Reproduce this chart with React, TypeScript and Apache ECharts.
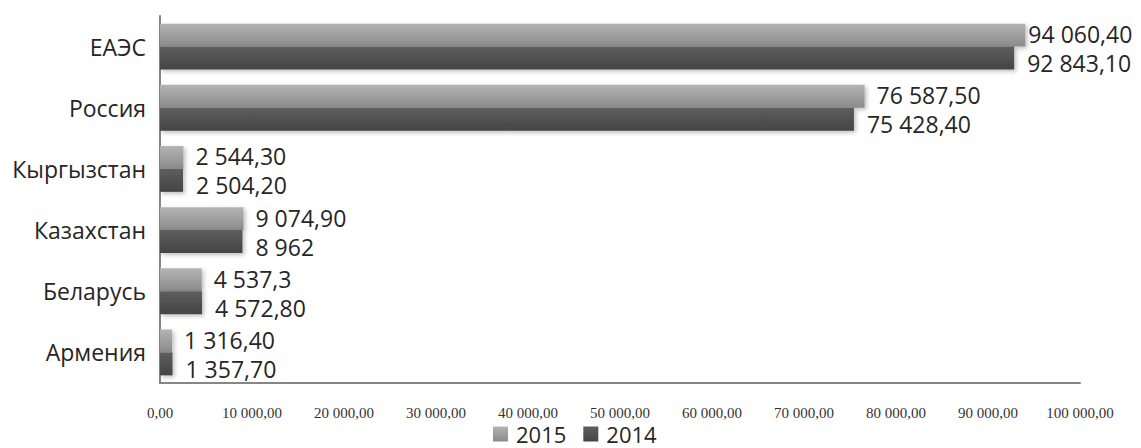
import React, { useEffect, useRef } from "react";
import * as echarts from "echarts";

const categories = ["ЕАЭС", "Россия", "Кыргызстан", "Казахстан", "Беларусь", "Армения"];
const values2015 = [94060.4, 76587.5, 2544.3, 9074.9, 4537.3, 1316.4];
const values2014 = [92843.1, 75428.4, 2504.2, 8962, 4572.8, 1357.7];
const labels2015 = ["94 060,40", "76 587,50", "2 544,30", "9 074,90", "4 537,3", "1 316,40"];
const labels2014 = ["92 843,10", "75 428,40", "2 504,20", "8 962", "4 572,80", "1 357,70"];
const seriesNames = ["2015", "2014"];
const axisMin = 0;
const axisMax = 100000;
const axisInterval = 10000;

function fmtAxis(v: number): string {
  const s = Math.round(v).toString().replace(/\B(?=(\d{3})+(?!\d))/g, " ");
  return s + ",00";
}

const grad2015 = new echarts.graphic.LinearGradient(0, 0, 0, 1, [
  { offset: 0, color: "#b4b4b4" },
  { offset: 1, color: "#8a8a8a" },
]);
const grad2014 = new echarts.graphic.LinearGradient(0, 0, 0, 1, [
  { offset: 0, color: "#5e5e5e" },
  { offset: 1, color: "#444444" },
]);

export default function App() {
  const ref = useRef<HTMLDivElement>(null);
  useEffect(() => {
    document.body.style.margin = "0";
    if (!ref.current) return;
    const chart = echarts.init(ref.current, null, { renderer: "svg" });
    const labelFont = "'Open Sans', 'Noto Sans', sans-serif";
    const shadow = { shadowColor: "rgba(0,0,0,0.25)", shadowBlur: 4, shadowOffsetX: 2, shadowOffsetY: 2 };
    chart.setOption({
      animation: false,
      backgroundColor: "#ffffff",
      grid: { left: 160, right: 61, top: 16, bottom: 65, containLabel: false },
      legend: {
        bottom: -2,
        left: 488,
        itemWidth: 15,
        itemHeight: 15,
        itemGap: 17,
        icon: "rect",
        textStyle: { fontSize: 22, lineHeight: 22, color: "#262626", fontFamily: labelFont, padding: [0, 0, 0, 3] },
        data: [
          { name: seriesNames[0], itemStyle: { color: grad2015 } },
          { name: seriesNames[1], itemStyle: { color: grad2014 } },
        ],
      },
      xAxis: {
        type: "value",
        min: axisMin,
        max: axisMax,
        interval: axisInterval,
        axisLine: { show: true, lineStyle: { color: "#868686", width: 2 } },
        axisTick: { show: false },
        splitLine: { show: false },
        axisLabel: {
          formatter: fmtAxis,
          fontFamily: "'Liberation Serif', 'DejaVu Serif', serif",
          fontSize: 15,
          color: "#333333",
          margin: 22,
        },
      },
      yAxis: {
        type: "category",
        inverse: true,
        data: categories,
        axisLine: { show: true, lineStyle: { color: "#868686", width: 2 } },
        axisTick: { show: false },
        axisLabel: { fontFamily: labelFont, fontSize: 23, color: "#262626", margin: 14 },
      },
      series: [
        {
          name: seriesNames[0],
          type: "bar",
          data: values2015.map((v, i) => (i === 0 ? { value: v, label: { distance: 3 } } : v)),
          barGap: "0%",
          barCategoryGap: "25%",
          itemStyle: { color: grad2015, ...shadow },
          label: {
            show: true,
            position: "right",
            distance: 12,
            offset: [0, -1],
            formatter: (p: any) => labels2015[p.dataIndex],
            fontFamily: labelFont,
            fontSize: 23,
            color: "#262626",
          },
        },
        {
          name: seriesNames[1],
          type: "bar",
          data: values2014,
          barGap: "0%",
          barCategoryGap: "25%",
          itemStyle: { color: grad2014, ...shadow },
          label: {
            show: true,
            position: "right",
            distance: 13,
            offset: [0, 5],
            formatter: (p: any) => labels2014[p.dataIndex],
            fontFamily: labelFont,
            fontSize: 23,
            color: "#262626",
          },
        },
      ],
    });
    return () => chart.dispose();
  }, []);
  return <div ref={ref} style={{ width: 1141, height: 448 }} />;
}
